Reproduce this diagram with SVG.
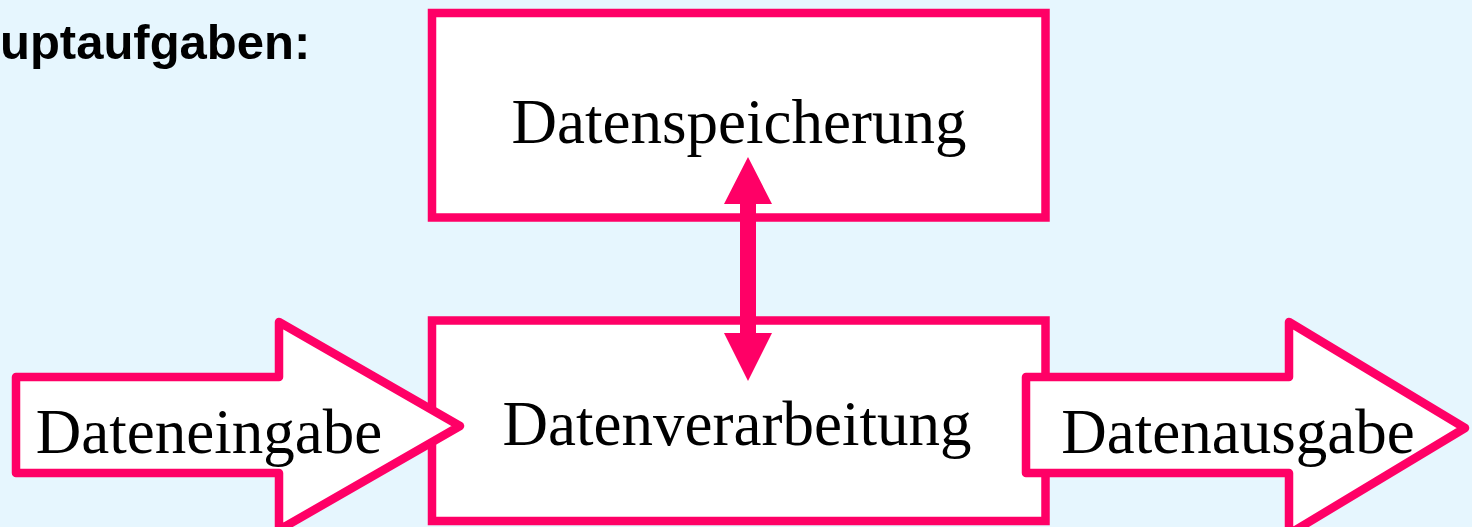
<svg xmlns="http://www.w3.org/2000/svg" width="1472" height="527" viewBox="0 0 1472 527">
<style>
.box{fill:#ffffff;stroke:#ff0066;stroke-width:8.5}
.big{fill:#ffffff;stroke:#ff0066;stroke-width:8.5;stroke-linejoin:round}
.lbl{font-family:"Liberation Serif","Times New Roman",serif;font-size:63px;fill:#000;text-anchor:middle}
.title{font-family:"Liberation Sans",Arial,sans-serif;font-size:49px;font-weight:bold;fill:#000}
</style>
<rect width="1472" height="527" fill="#e6f6fe"/>
<text class="title" x="0" y="59">uptaufgaben:</text>
<g id="speicherung">
<rect class="box" x="432" y="13" width="613.5" height="204.5"/>
<text class="lbl" x="739" y="143">Datenspeicherung</text>
</g>
<g id="verarbeitung">
<rect class="box" x="432" y="320.5" width="613.5" height="200.5"/>
<text class="lbl" x="737" y="445">Datenverarbeitung</text>
</g>
<g id="connectors">
<polygon fill="#ff0066" points="748,157 772,204 756,204 756,333 772,333 748,381 724,333 740,333 740,204 724,204"/>
</g>
<g id="eingabe">
<polygon class="big" points="16,377 279,377 279,322 460,426 279,530 279,473 16,473"/>
<text class="lbl" x="209" y="453">Dateneingabe</text>
</g>
<g id="ausgabe">
<polygon class="big" points="1026,377 1289,377 1289,322 1465,428 1289,534 1289,473 1026,473"/>
<text class="lbl" x="1238" y="453">Datenausgabe</text>
</g>
</svg>
